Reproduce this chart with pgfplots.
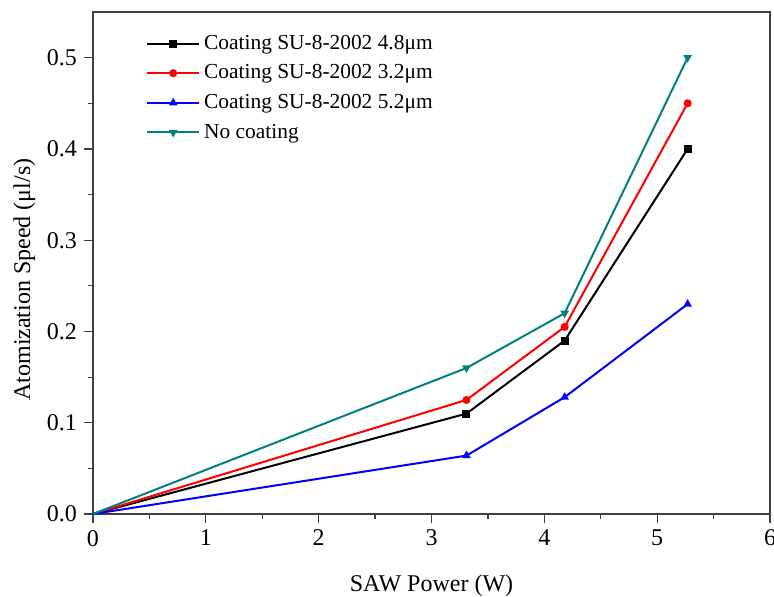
\documentclass[border=0pt]{standalone}
\usepackage{pgfplots}
\pgfplotsset{compat=1.18}
\usepackage{fontspec}
\setmainfont{Liberation Serif}
\definecolor{tealc}{RGB}{0,128,128}
\begin{document}
\begin{tikzpicture}
\begin{axis}[name=ax, at={(0,0)}, anchor=south west,
  scale only axis, width=338.5pt, height=251pt,
  xmin=0, xmax=6, ymin=0, ymax=0.55,
  xtick={0,1,2,3,4,5,6}, ytick={0,0.1,0.2,0.3,0.4,0.5},
  minor x tick num=1, minor y tick num=1,
  tick pos=left, tick align=outside,
  major tick length=4.5pt, minor tick length=2.5pt,
  every tick/.style={black!75, line width=0.6pt},
  axis line style={black!75, line width=0.6pt},
  /pgf/number format/assume math mode=true,
  yticklabel style={/pgf/number format/fixed, /pgf/number format/fixed zerofill, /pgf/number format/precision=1},
  ticklabel style={font=\fontsize{12}{14}\selectfont},
  xlabel={SAW Power (W)}, ylabel={Atomization Speed (μl/s)},
  label style={font=\fontsize{12}{14}\selectfont},
  xlabel style={at={(axis description cs:0.5,-0.1534)}, anchor=base},
  ylabel style={at={(axis description cs:-0.093,0.467)}, anchor=base, rotate=0},
  legend style={draw=none, fill=none, inner sep=0pt, at={(axis description cs:0.078,0.963)}, anchor=north west, font=\fontsize{10.7}{12.5}\selectfont, row sep=2.2pt, cells={anchor=west}},
  legend image code/.code={\draw[#1, mark=none] (0pt,0pt) -- (26pt,0pt); \path[#1, mark indices={1}] plot coordinates {(13pt,0pt)};},
  every axis plot/.append style={line width=1pt, mark size=1.5pt, mark indices={2,3,4}},
]
\addplot[black, mark=square*] coordinates {(0,0) (3.31,0.11) (4.18,0.19) (5.27,0.40)};
\addlegendentry{Coating SU-8-2002 4.8μm}
\addplot[red, mark=*] coordinates {(0,0) (3.31,0.125) (4.18,0.205) (5.27,0.45)};
\addlegendentry{Coating SU-8-2002 3.2μm}
\addplot[blue, mark=triangle*] coordinates {(0,0) (3.31,0.064) (4.18,0.128) (5.27,0.23)};
\addlegendentry{Coating SU-8-2002 5.2μm}
\addplot[tealc, mark=triangle*, mark options={rotate=180}] coordinates {(0,0) (3.31,0.16) (4.18,0.22) (5.27,0.50)};
\addlegendentry{No coating}
\end{axis}
\pgfresetboundingbox
\path (-46.5pt,-41pt) rectangle (340.5pt,257pt);
\end{tikzpicture}
\end{document}
